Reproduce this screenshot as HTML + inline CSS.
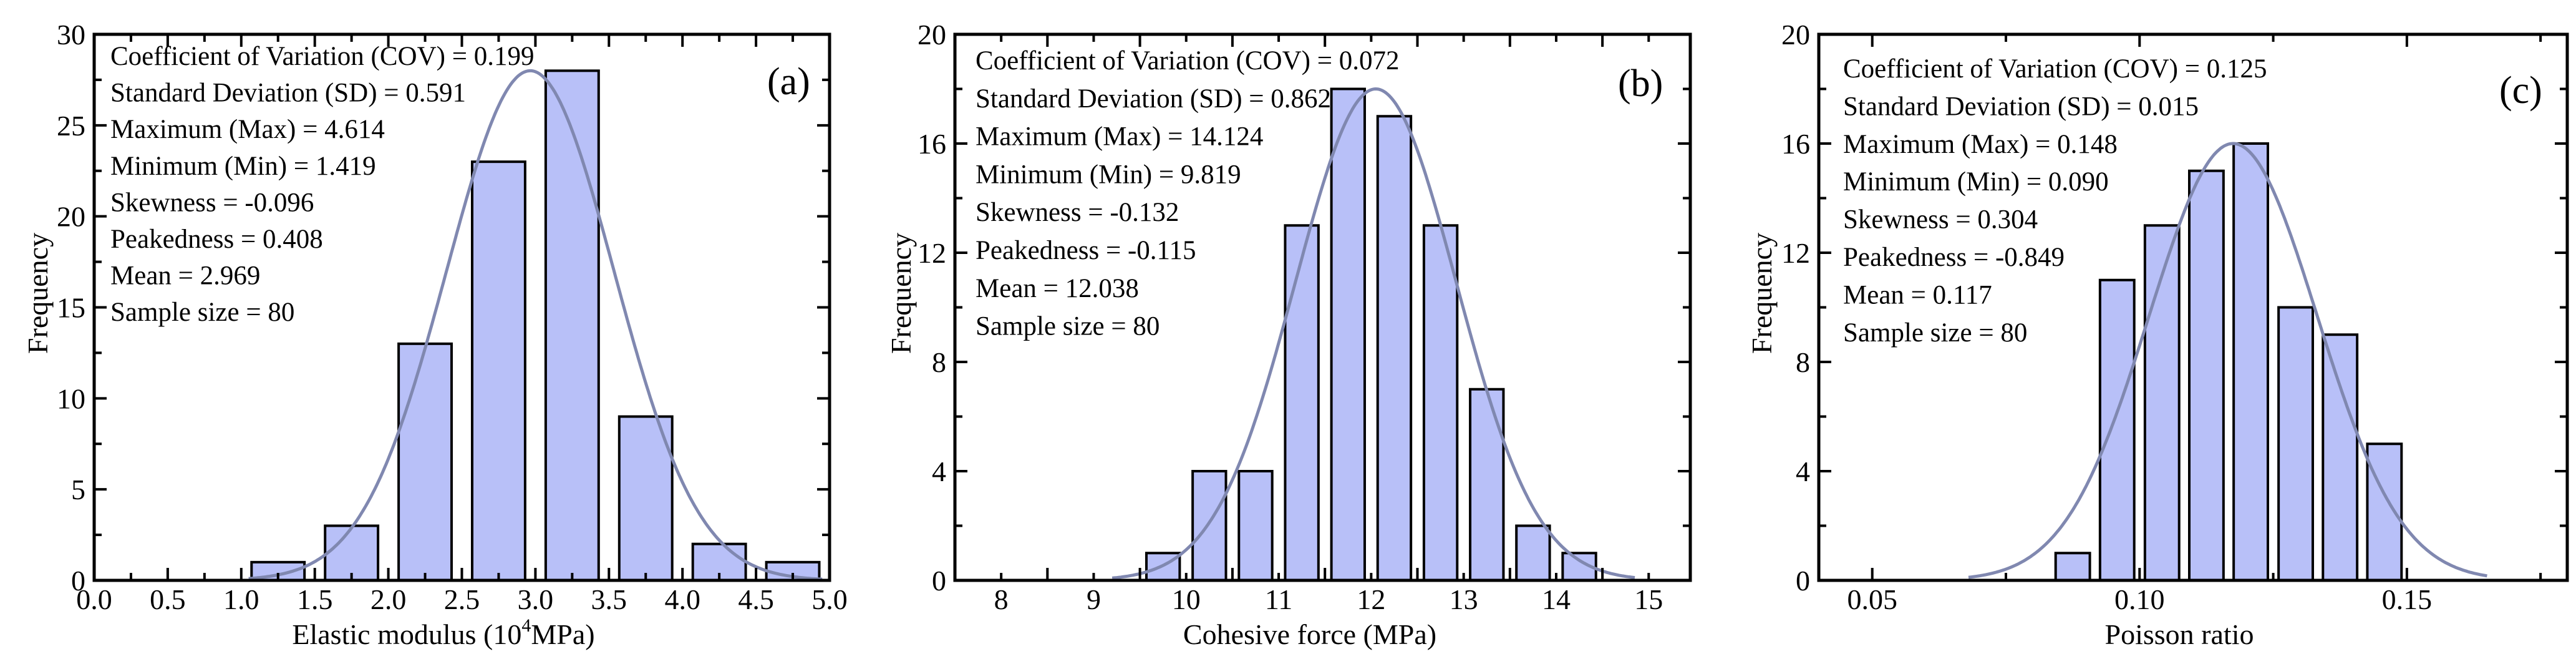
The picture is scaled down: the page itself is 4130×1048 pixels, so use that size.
<!DOCTYPE html>
<html><head><meta charset="utf-8"><style>
html,body{margin:0;padding:0;background:#fff}
svg{display:block}
text{font-family:"Liberation Serif",serif;fill:#000}
</style></head><body>
<svg id="chart" xmlns="http://www.w3.org/2000/svg" width="4130" height="1048" viewBox="0 0 4130 1048"></svg>
<script>
// ---- Panel (a) data ----
const aCenters = [1.25, 1.75, 2.25, 2.75, 3.25, 3.75, 4.25, 4.75];
const aCounts = [1, 3, 13, 23, 28, 9, 2, 1];
const aXTicks = ["0.0","0.5","1.0","1.5","2.0","2.5","3.0","3.5","4.0","4.5","5.0"];
const aYTicks = [0, 5, 10, 15, 20, 25, 30];
const aStats = ["Coefficient of Variation (COV) = 0.199","Standard Deviation (SD) = 0.591","Maximum (Max) = 4.614","Minimum (Min) = 1.419","Skewness = -0.096","Peakedness = 0.408","Mean = 2.969","Sample size = 80"];
const aFit = [2.965, 0.57, 28.0, 1.05, 4.95]; // mean, sd, peak, from, to
// ---- Panel (b) data ----
const bCenters = [9.75, 10.25, 10.75, 11.25, 11.75, 12.25, 12.75, 13.25, 13.75, 14.25];
const bCounts = [1, 4, 4, 13, 18, 17, 13, 7, 2, 1];
const bXTicks = ["8","9","10","11","12","13","14","15"];
const bYTicks = [0, 4, 8, 12, 16, 20];
const bStats = ["Coefficient of Variation (COV) = 0.072","Standard Deviation (SD) = 0.862","Maximum (Max) = 14.124","Minimum (Min) = 9.819","Skewness = -0.132","Peakedness = -0.115","Mean = 12.038","Sample size = 80"];
const bFit = [12.05, 0.87, 18.0, 9.2, 14.85];
// ---- Panel (c) data ----
const cCenters = [0.0875, 0.0958, 0.1042, 0.1125, 0.1208, 0.1292, 0.1375, 0.1458];
const cCounts = [1, 11, 13, 15, 16, 10, 9, 5];
const cXTicks = ["0.05","0.10","0.15"];
const cYTicks = [0, 4, 8, 12, 16, 20];
const cStats = ["Coefficient of Variation (COV) = 0.125","Standard Deviation (SD) = 0.015","Maximum (Max) = 0.148","Minimum (Min) = 0.090","Skewness = 0.304","Peakedness = -0.849","Mean = 0.117","Sample size = 80"];
const cFit = [0.1175, 0.0157, 16.0, 0.068, 0.165];

const NS = "http://www.w3.org/2000/svg";
const svg = document.getElementById("chart");
function mk(tag, attrs, parent){
  const e = document.createElementNS(NS, tag);
  for (const k in attrs) e.setAttribute(k, attrs[k]);
  (parent||svg).appendChild(e);
  return e;
}
const TOP = 55, BOT = 930;

function panel(o){
  const g = mk("g", {});
  
  
  const sx = v => o.L + (v - o.xmin) / (o.xmax - o.xmin) * (o.R - o.L);
  const sy = v => BOT - v / o.ymax * (BOT - TOP);
  // bars
  o.centers.forEach((c, i) => {
    const x0 = sx(c - o.bw/2), x1 = sx(c + o.bw/2);
    const r = mk("rect", {x:x0, y:sy(o.counts[i]), width:x1-x0, height:BOT - sy(o.counts[i]), fill:"#b8c0f8", stroke:"#000", "stroke-width":4}, g);
    
    
  });
  // fit curve
  const [m, s, pk, f, t] = o.fit;
  let d = "";
  for (let k = 0; k <= 300; k++){
    const x = f + (t - f) * k / 300;
    const y = pk * Math.exp(-0.5 * ((x - m)/s) ** 2);
    d += (k ? "L" : "M") + sx(x).toFixed(1) + "," + sy(y).toFixed(1);
  }
  const p = mk("path", {d:d, fill:"none", stroke:"#8088b0", "stroke-width":5}, g);
  
  
  // frame
  const fr = mk("rect", {x:o.L, y:TOP, width:o.R - o.L, height:BOT - TOP, fill:"none", stroke:"#000", "stroke-width":5}, g);
  
  
  // x ticks
  for (let v = o.xt0; v <= o.xmax + 1e-9; v += o.xminor){
    const idx = Math.round((v - o.xt0) / o.xminor);
    const len = idx % 2 === 0 ? 20 : 12;
    const X = sx(v);
    mk("line", {x1:X, x2:X, y1:BOT, y2:BOT - len, stroke:"#000", "stroke-width":4}, g);
    mk("line", {x1:X, x2:X, y1:TOP, y2:TOP + len, stroke:"#000", "stroke-width":4}, g);
  }
  o.xticks.forEach(lbl => {
    const t = mk("text", {x:sx(parseFloat(lbl)), y:976, "font-size":46, "text-anchor":"middle"}, g);
    t.textContent = lbl;
    
    
  });
  // y ticks
  const ystep = o.yticks[1] - o.yticks[0];
  for (let v = 0; v <= o.ymax + 1e-9; v += ystep/2){
    const major = Math.abs(v / ystep - Math.round(v / ystep)) < 1e-6;
    const len = major ? 20 : 12;
    const Y = sy(v);
    mk("line", {x1:o.L, x2:o.L + len, y1:Y, y2:Y, stroke:"#000", "stroke-width":4}, g);
    mk("line", {x1:o.R, x2:o.R - len, y1:Y, y2:Y, stroke:"#000", "stroke-width":4}, g);
  }
  o.yticks.forEach(v => {
    const t = mk("text", {x:o.L - 14, y:sy(v) + 16, "font-size":46, "text-anchor":"end"}, g);
    t.textContent = String(v);
    
    
  });
  // axis titles
  const xt = mk("text", {x:o.xtx, y:1032, "font-size":46, "text-anchor":"middle"}, g);
  if (o.sup){
    xt.appendChild(document.createTextNode("Elastic modulus (10"));
    const ts = mk("tspan", {"font-size":30, dy:-20}, xt); ts.textContent = "4";
    const ts2 = mk("tspan", {dy:20}, xt); ts2.textContent = "MPa)";
  } else xt.textContent = o.xtitle;
  
  
  const yt = mk("text", {x:0, y:0, "font-size":46, "text-anchor":"middle", transform:`translate(${o.ytx},470) rotate(-90)`}, g);
  yt.textContent = "Frequency";
  
  
  // stats
  o.stats.forEach((s, i) => {
    const t = mk("text", {x:o.sx0, y:o.sy0 + i * o.sdy, "font-size":43}, g);
    t.textContent = s;
    
    
  });
  const pl = mk("text", {x:o.plx, y:o.ply, "font-size":62}, g);
  pl.textContent = o.plabel;
  
  
}

panel({name:"panel-a", L:151, R:1330, xmin:0, xmax:5, xt0:0, xminor:0.25, ymax:30, bw:0.36,
  centers:aCenters, counts:aCounts, xticks:aXTicks, yticks:aYTicks, fit:aFit, stats:aStats,
  xtx:711, ytx:76, sup:true, sx0:177, sy0:104, sdy:58.6, plabel:"(a)", plx:1230, ply:151});
panel({name:"panel-b", L:1531, R:2710, xmin:7.5, xmax:15.45, xt0:7.5, xminor:0.5, ymax:20, bw:0.36,
  centers:bCenters, counts:bCounts, xticks:bXTicks, yticks:bYTicks, fit:bFit, stats:bStats,
  xtx:2100, ytx:1460, xtitle:"Cohesive force (MPa)", sx0:1564, sy0:111, sdy:60.8, plabel:"(b)", plx:2594, ply:154});
panel({name:"panel-c", L:2916, R:4116, xmin:0.04, xmax:0.18, xt0:0.05, xminor:0.025, ymax:20, bw:0.0064,
  centers:cCenters, counts:cCounts, xticks:cXTicks, yticks:cYTicks, fit:cFit, stats:cStats,
  xtx:3494, ytx:2840, xtitle:"Poisson ratio", sx0:2955, sy0:124, sdy:60.4, plabel:"(c)", plx:4007, ply:165});
</script>
</body></html>
